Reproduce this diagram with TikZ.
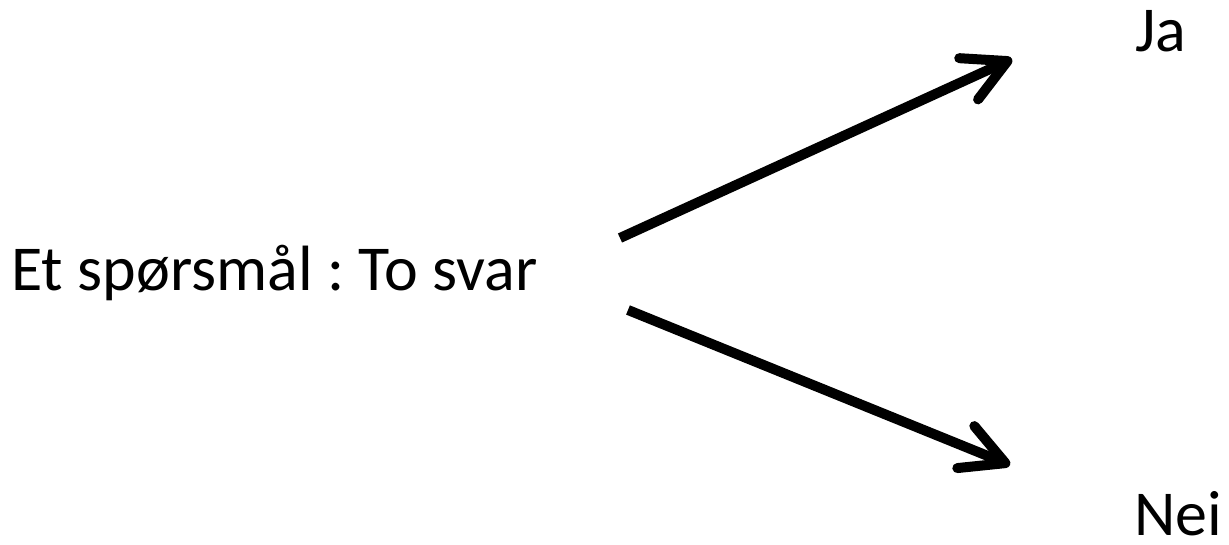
\documentclass[tikz,border=0pt]{standalone}
\usepackage{fontspec}
\setmainfont{Carlito}
\usetikzlibrary{arrows.meta}
\frenchspacing

\begin{document}
\begin{tikzpicture}[x=0.75pt,y=0.75pt]
\useasboundingbox (0,0) rectangle (1229,544);
\node[anchor=base west,inner sep=0pt,font=\fontsize{48}{58}\selectfont] (0) at (11,254) {Et spørsmål : To svar};
\node[anchor=base west,inner sep=0pt,font=\fontsize{48}{58}\selectfont] (1) at (1135,492) {Ja};
\node[anchor=base west,inner sep=0pt,font=\fontsize{48}{58}\selectfont] (2) at (1134,9) {Nei};
\coordinate (3) at (620,306);
\coordinate (4) at (1012,485);
\coordinate (5) at (628,234);
\coordinate (6) at (1010,79);

\draw [-{Straight Barb[length=32pt,width=34pt,round]},draw=black,line width=7.5pt] (3) -- (4);
\draw [-{Straight Barb[length=32pt,width=34pt,round]},draw=black,line width=7.5pt] (5) -- (6);
\end{tikzpicture}
\end{document}
